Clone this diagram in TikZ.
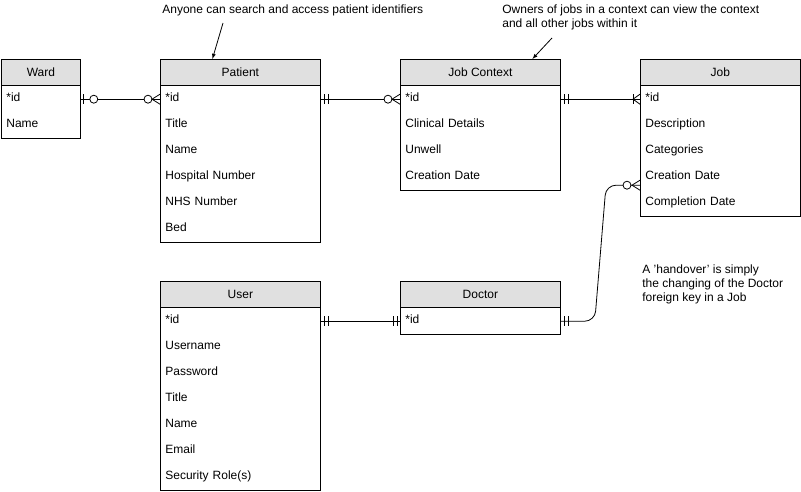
\documentclass[tikz,border=0pt]{standalone}
\usepackage{fontspec}
\setmainfont{Liberation Sans}
\usetikzlibrary{calc}
\definecolor{hdrgray}{RGB}{224,224,224}
\tikzset{
  tblhead/.style={draw, fill=hdrgray, minimum height=26pt, inner sep=0pt, anchor=north west},
  tblfield/.style={minimum height=26pt, inner xsep=5pt, inner ysep=0pt, text height=9pt, text depth=3.5pt, anchor=north west},
  note/.style={inner sep=0pt, anchor=west, align=left},
}
% table: name, x, y, width, title, fields
\newcommand{\ertable}[6]{%
  \node[tblhead, minimum width=#4pt] (#1) at (#2,#3) {#5};
  \pgfmathsetmacro\erw{#4-10}
  \foreach \f [count=\i] in {#6}{
    \node[tblfield, text width=\erw pt] (#1-\i) at ($(#1.south west)+(0,{26*(\i-1)})$) {\f};
    \xdef\erlast{\i}
  }
  \draw (#1.south west) rectangle (#1-\erlast.south east);
}
% crow's foot marks: point, offset
\newcommand{\erbar}[2]{\draw ($(#1)+(#2,-5)$) -- ++(0,10);}
\newcommand{\ercirc}[2]{\draw[fill=white] ($(#1)+(#2,0)$) circle (4pt);}
\newcommand{\erfoot}[2]{\draw ($(#1)+(0,-5)$) -- ($(#1)+(#2,0)$) -- ($(#1)+(0,5)$);}
\begin{document}
\begin{tikzpicture}[x=1pt, y=-1pt, >=latex, line width=0.8pt, font=\fontsize{12}{14}\selectfont]
\useasboundingbox (0,0) rectangle (801,492);

\ertable{ward}{1}{59}{79}{Ward}{*id,Name}
\ertable{patient}{160}{59}{160}{Patient}{*id,Title,Name,Hospital Number,NHS Number,Bed}
\ertable{jobctx}{400}{59}{160}{Job Context}{*id,Clinical Details,Unwell,Creation Date}
\ertable{job}{640}{59}{160}{Job}{*id,Description,Categories,Creation Date,Completion Date}
\ertable{user}{160}{281}{160}{User}{*id,Username,Password,Title,Name,Email,Security Role(s)}
\ertable{doctor}{400}{281}{160}{Doctor}{*id}

% ward - patient
\draw (ward-1.east) -- (patient-1.west);
\erbar{ward-1.east}{3}
\ercirc{ward-1.east}{13}
\ercirc{patient-1.west}{-12}
\erfoot{patient-1.west}{-8}

% patient - job context
\draw (patient-1.east) -- (jobctx-1.west);
\erbar{patient-1.east}{4}
\erbar{patient-1.east}{8}
\ercirc{jobctx-1.west}{-12}
\erfoot{jobctx-1.west}{-8}

% job context - job
\draw (jobctx-1.east) -- (job-1.west);
\erbar{jobctx-1.east}{4}
\erbar{jobctx-1.east}{8}
\erbar{job-1.west}{-7}
\erfoot{job-1.west}{-7}

% user - doctor
\draw (user-1.east) -- (doctor-1.west);
\erbar{user-1.east}{4}
\erbar{user-1.east}{8}
\erbar{doctor-1.west}{-3}
\erbar{doctor-1.west}{-7}

% doctor - job
\coordinate (jobfk) at ([yshift=-8pt]job-4.west);
\draw[rounded corners=10pt] (doctor-1.east) -- ++(34,0) -- ($(jobfk)+(-34,0)$) -- (jobfk);
\erbar{doctor-1.east}{4}
\erbar{doctor-1.east}{8}
\ercirc{jobfk}{-13}
\erfoot{jobfk}{-8}

% notes
\node[note] (note1) at (162,10) {Anyone can search and access patient identifiers};
\node[note] (note2) at (502,17) {Owners of jobs in a context can view the context\\and all other jobs within it};
\node[note] (note3) at (642,284) {A 'handover' is simply\\the changing of the Doctor\\foreign key in a Job};

\coordinate (note1tail) at (223,23);
\coordinate (note2tail) at (552,38);
\draw[->] (note1tail) -- ([xshift=-28pt]patient.north);
\draw[->] (note2tail) -- ([xshift=52pt]jobctx.north);
\end{tikzpicture}
\end{document}
